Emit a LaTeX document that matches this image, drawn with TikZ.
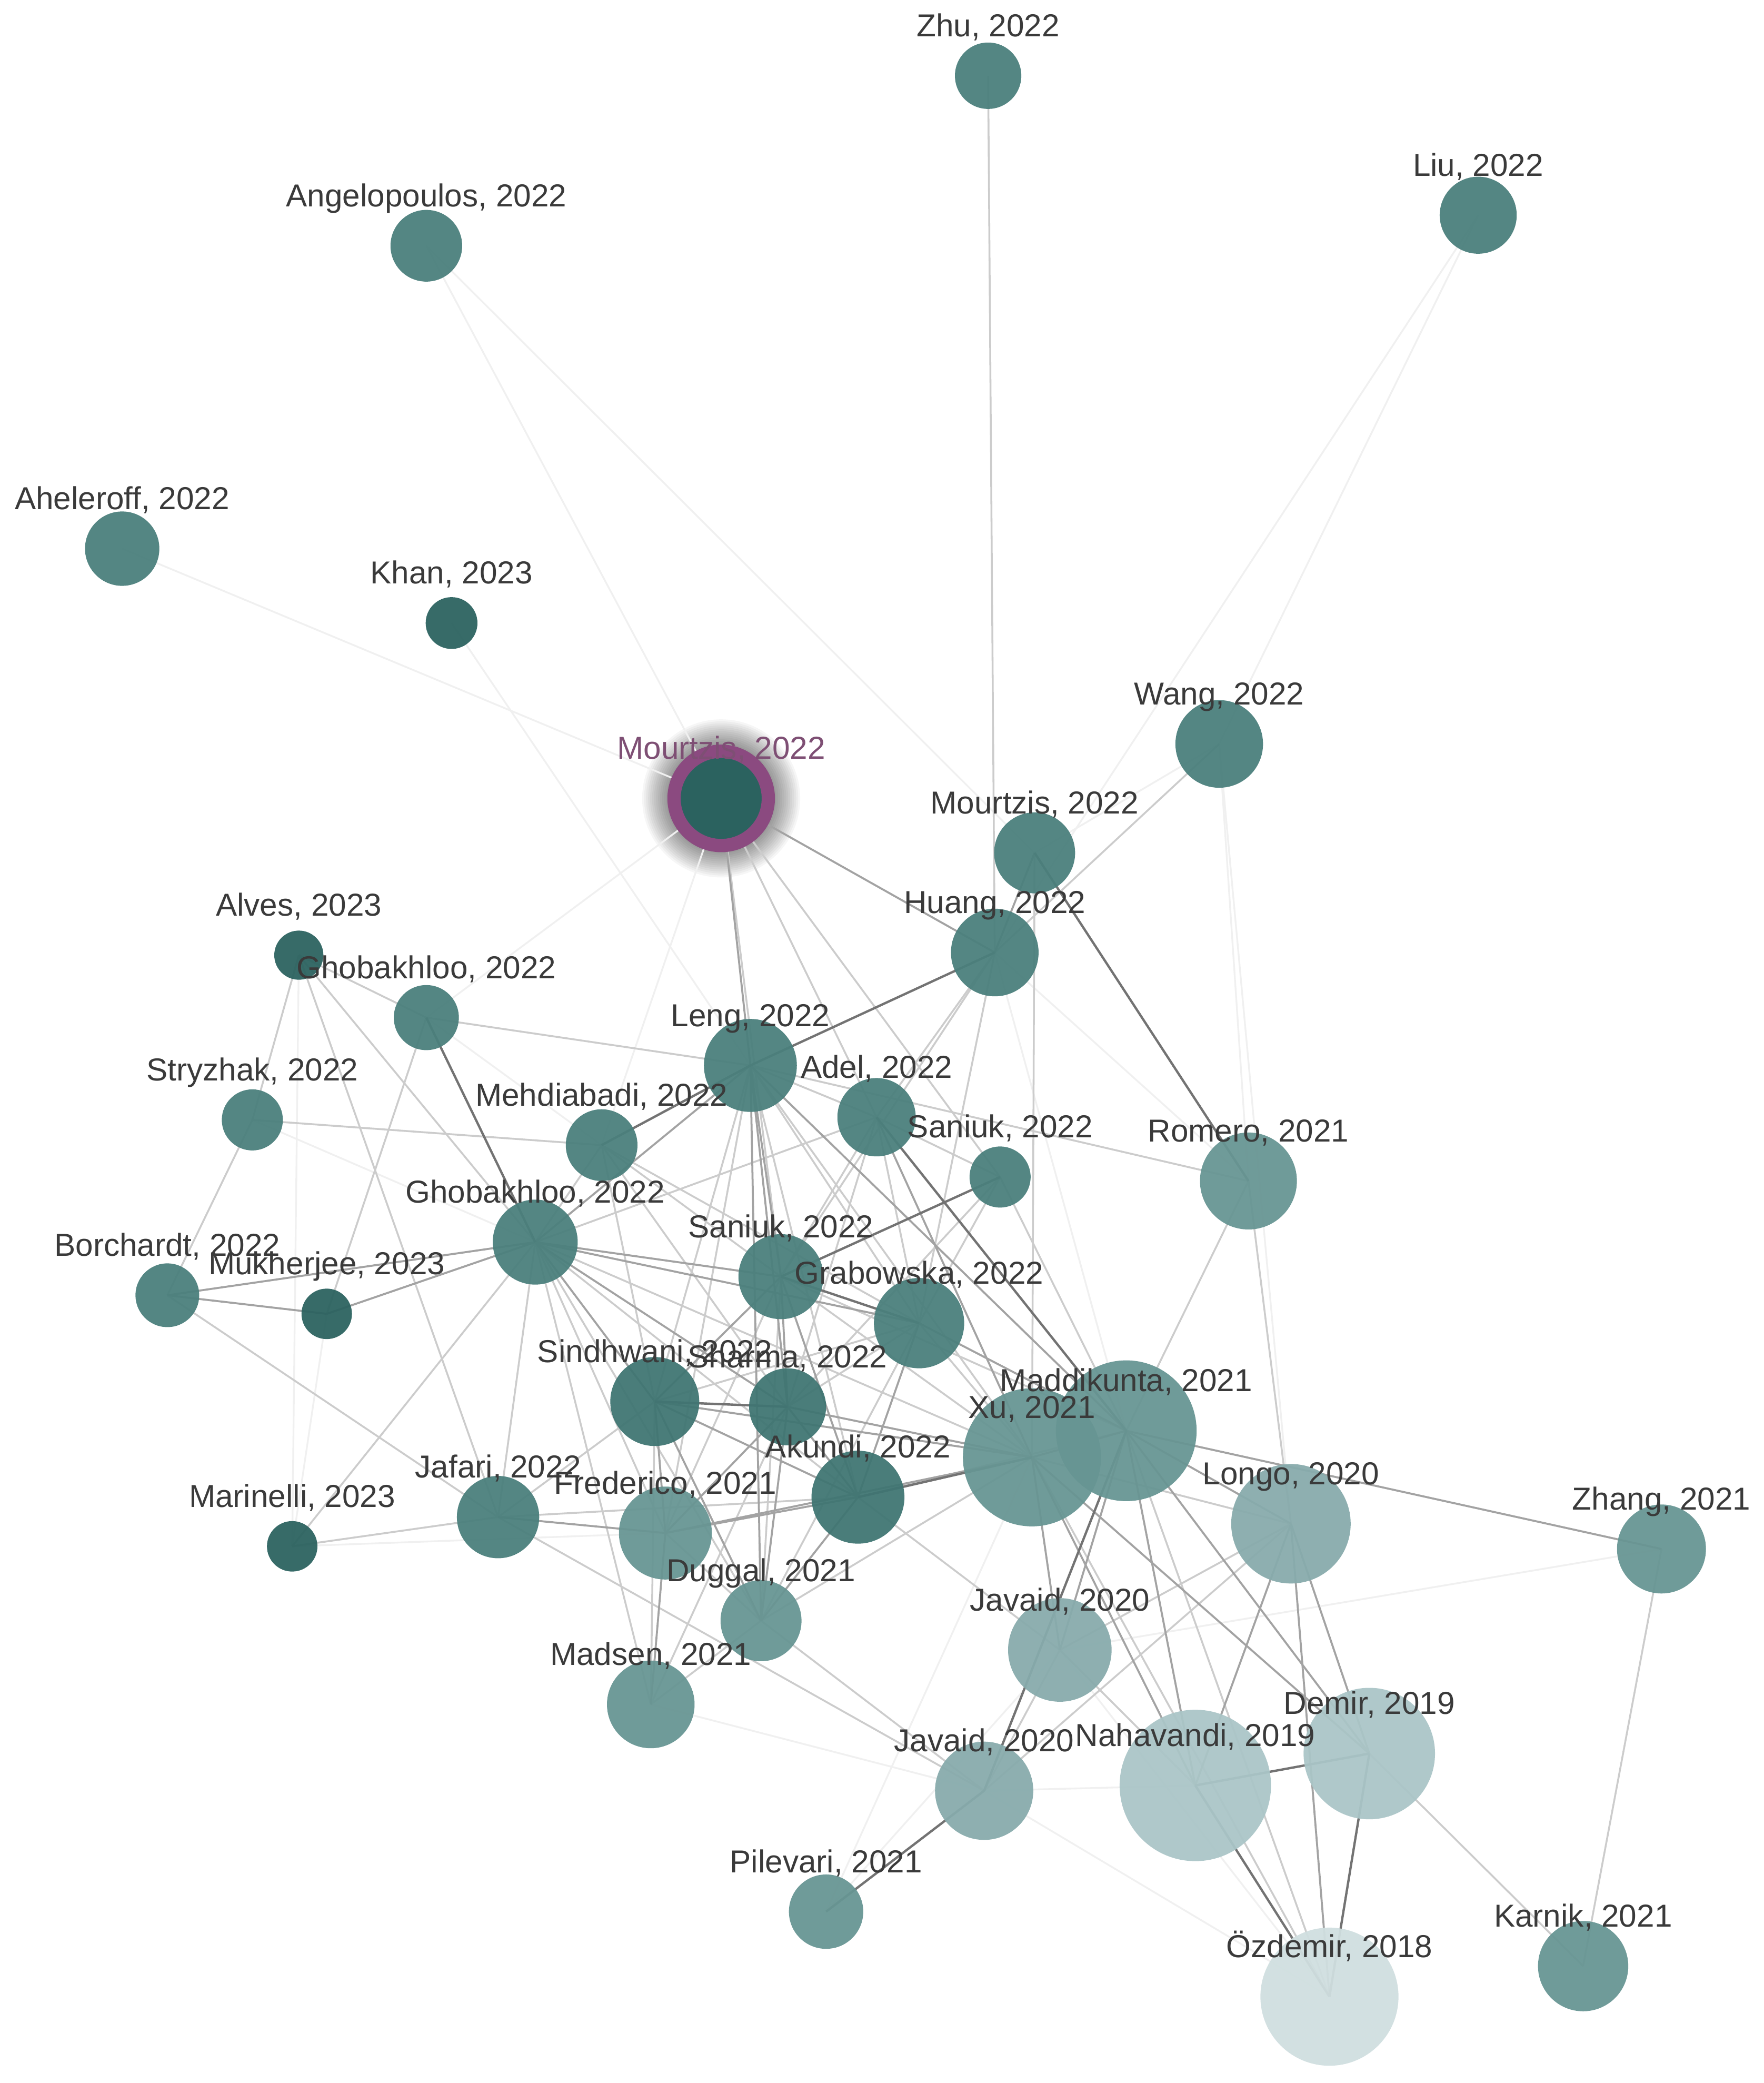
\documentclass[tikz,border=0pt]{standalone}
\usepackage{fontspec}
\setmainfont{Liberation Sans}
\pgfdeclarelayer{glow}
\pgfdeclarelayer{edges}
\pgfdeclarelayer{labels}
\pgfsetlayers{glow,edges,main,labels}
\definecolor{cA}{HTML}{2B625F}
\definecolor{cB}{HTML}{4A7F7C}
\definecolor{cBd}{HTML}{3F7572}
\definecolor{cC}{HTML}{679593}
\definecolor{cD}{HTML}{87ABAC}
\definecolor{cE}{HTML}{AAC5C7}
\definecolor{cF}{HTML}{D0DFE0}
\definecolor{ringc}{HTML}{8B4A80}
\definecolor{labc}{HTML}{3A3A3A}
\definecolor{labp}{HTML}{7E4F74}
\newcommand{\pnode}[6]{%
  \node[paper, fill=#5, minimum size=#4*0.04cm] (#1) at (#2,#3) {};%
  \begin{pgfonlayer}{labels}\node[plabel] (#1l) at (#2,#3-29.5) {#6};\end{pgfonlayer}%
}
\begin{document}
\begin{tikzpicture}[x=0.02cm,y=-0.02cm,
  paper/.style={circle, draw=none, inner sep=0pt, outer sep=0pt, fill opacity=0.94},
  plabel/.style={font=\fontsize{13.6}{16}\selectfont, text=labc, anchor=base, inner sep=0pt},
  ef/.style={draw=black!6, line width=0.75pt},
  el/.style={draw=black!20, line width=0.8pt},
  em/.style={draw=black!36, line width=0.85pt},
  ed/.style={draw=black!55, line width=1pt}]
\useasboundingbox (0,0) rectangle (1328,1568);
\begin{pgfonlayer}{glow}
\fill[white] (0,0) rectangle (1328,1568);
\end{pgfonlayer}
% nodes
\pnode{zhu}{744}{57}{25}{cB}{Zhu, 2022}
\pnode{liu}{1113}{162}{29}{cB}{Liu, 2022}
\pnode{ang}{321}{185}{27}{cB}{Angelopoulos, 2022}
\pnode{ahe}{92}{413}{28}{cB}{Aheleroff, 2022}
\pnode{khan}{340}{469}{19.5}{cA}{Khan, 2023}
\pnode{wang}{918}{560}{33}{cB}{Wang, 2022}
\pnode{mou2}{779}{642}{30.5}{cB}{Mourtzis, 2022}
\pnode{huang}{749}{717}{33}{cB}{Huang, 2022}
\pnode{alves}{225}{719}{18.5}{cA}{Alves, 2023}
\pnode{ghoA}{321}{766}{24.5}{cB}{Ghobakhloo, 2022}
\pnode{leng}{565}{802}{35}{cB}{Leng, 2022}
\pnode{adel}{660}{841}{29.5}{cB}{Adel, 2022}
\pnode{stry}{190}{843}{23}{cB}{Stryzhak, 2022}
\pnode{mehd}{453}{862}{27}{cB}{Mehdiabadi, 2022}
\pnode{sanS}{753}{886}{23}{cB}{Saniuk, 2022}
\pnode{rom}{940}{889}{36.5}{cC}{Romero, 2021}
\pnode{ghoB}{403}{935}{32}{cB}{Ghobakhloo, 2022}
\pnode{sanB}{588}{961}{32}{cB}{Saniuk, 2022}
\pnode{borch}{126}{975}{24}{cB}{Borchardt, 2022}
\pnode{mukh}{246}{989}{19}{cA}{Mukherjee, 2023}
\pnode{grab}{692}{996}{34}{cB}{Grabowska, 2022}
\pnode{sindh}{493}{1055}{33.5}{cBd}{Sindhwani, 2022}
\pnode{sharma}{593}{1059}{29}{cBd}{Sharma, 2022}
\pnode{madd}{848}{1077}{53}{cC}{Maddikunta, 2021}
\pnode{xu}{777}{1097}{52}{cC}{Xu, 2021}
\pnode{akundi}{646}{1127}{35}{cBd}{Akundi, 2022}
\pnode{jafari}{375}{1142}{31}{cB}{Jafari, 2022}
\pnode{fred}{501}{1154}{35}{cC}{Frederico, 2021}
\pnode{longo}{972}{1147}{45}{cD}{Longo, 2020}
\pnode{zhang}{1251}{1166}{33.5}{cC}{Zhang, 2021}
\pnode{mari}{220}{1164}{19}{cA}{Marinelli, 2023}
\pnode{duggal}{573}{1220}{30.5}{cC}{Duggal, 2021}
\pnode{javU}{798}{1242}{39}{cD}{Javaid, 2020}
\pnode{madsen}{490}{1283}{33}{cC}{Madsen, 2021}
\pnode{demir}{1031}{1320}{49.5}{cE}{Demir, 2019}
\pnode{naha}{900}{1344}{57}{cE}{Nahavandi, 2019}
\pnode{javL}{741}{1348}{37}{cD}{Javaid, 2020}
\pnode{pilev}{622}{1439}{28}{cC}{Pilevari, 2021}
\pnode{karnik}{1192}{1480}{34}{cC}{Karnik, 2021}
\pnode{ozd}{1001}{1503}{52}{cF}{Özdemir, 2018}
% highlighted paper
\node[paper, fill=cA, fill opacity=1, draw=ringc, line width=0.2cm, minimum size=71*0.02cm] (mou1) at (543,601) {};
\begin{pgfonlayer}{labels}
\node[plabel, text=labp] (mou1l) at (543,571.5) {Mourtzis, 2022};
\end{pgfonlayer}
\begin{pgfonlayer}{glow}
\foreach \r in {40,41.5,...,60} \fill[black, opacity=0.035] (mou1.center) circle[radius=\r];
\end{pgfonlayer}
% connectors
\begin{pgfonlayer}{edges}
\foreach \a/\b in {liu/wang, liu/huang, ang/mou1, ang/mou2, ahe/mou1, khan/leng, wang/mou2, wang/rom, wang/longo, mou1/ghoA, mou1/mehd, huang/rom, huang/madd, alves/mari, ghoA/mehd, stry/ghoB, mukh/mari, mari/fred, madsen/javL, javU/ozd, javU/pilev, javL/naha, javL/ozd, zhang/javU, xu/pilev}
  \draw[ef] (\a.center) -- (\b.center);
\foreach \a/\b in {zhu/huang, wang/huang, mou2/xu, mou1/adel, mou1/sanS, mou1/sanB, huang/adel, huang/grab, huang/sanB, alves/ghoA, alves/stry, stry/borch, alves/jafari, alves/ghoB, ghoA/mukh, ghoA/leng, stry/mehd, borch/jafari, mari/jafari, mari/ghoB, ghoB/mehd, ghoB/akundi, ghoB/fred, ghoB/duggal, ghoB/xu, ghoB/madsen, ghoB/jafari, ghoB/adel, leng/adel, leng/sindh, leng/fred, leng/grab, leng/akundi, leng/xu, leng/rom, mehd/sanB, mehd/sindh, mehd/sharma, mehd/grab, adel/sanS, adel/grab, adel/sanB, adel/sharma, sanS/grab, sanS/madd, sanS/sharma, sanB/fred, sanB/duggal, sanB/madd, sanB/xu, grab/xu, grab/sharma, grab/sindh, grab/duggal, sindh/madsen, sindh/jafari, sharma/madsen, akundi/javU, akundi/madd, akundi/jafari, fred/duggal, duggal/madsen, duggal/javL, duggal/xu, xu/longo, xu/ozd, madd/ozd, madd/rom, longo/javL, longo/javU, rom/longo, javU/javL, javU/naha, javL/jafari, demir/karnik, zhang/karnik}
  \draw[el] (\a.center) -- (\b.center);
\foreach \a/\b in {mou2/huang, mou1/huang, mou1/leng, borch/mukh, borch/ghoB, mukh/ghoB, ghoB/leng, ghoB/sanB, ghoB/grab, ghoB/sindh, ghoB/sharma, leng/sanB, leng/sharma, leng/duggal, leng/madd, adel/xu, sanB/sindh, sanB/sharma, sanB/akundi, grab/madd, grab/akundi, sindh/fred, sindh/duggal, sindh/akundi, sindh/xu, sharma/akundi, sharma/xu, sharma/fred, sharma/duggal, akundi/fred, akundi/duggal, fred/xu, fred/madsen, fred/jafari, xu/madd, xu/javU, xu/naha, xu/demir, madd/longo, madd/naha, madd/demir, madd/javU, madd/zhang, longo/naha, longo/demir, longo/ozd}
  \draw[em] (\a.center) -- (\b.center);
\foreach \a/\b in {mou2/rom, huang/leng, leng/mehd, ghoA/ghoB, adel/madd, sanS/sanB, sanB/grab, sindh/sharma, akundi/xu, madd/javL, javL/pilev, naha/demir, naha/ozd, demir/ozd}
  \draw[ed] (\a.center) -- (\b.center);
\end{pgfonlayer}
\end{tikzpicture}
\end{document}
